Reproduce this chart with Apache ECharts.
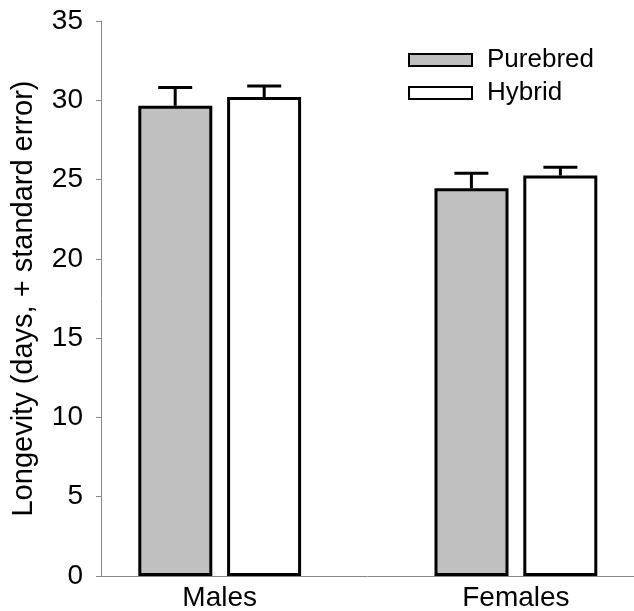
<!DOCTYPE html>
<html>
<head>
<meta charset="utf-8">
<script src="https://cdn.jsdelivr.net/npm/echarts@6/dist/echarts.min.js"></script>
<style>
  html, body { margin: 0; padding: 0; background: #fff; }
  #chart { width: 634px; height: 611px; }
</style>
</head>
<body>
<div id="chart"></div>
<script>
// 数据
var categories = ['Males', 'Females'];
var purebred = [29.65, 24.45];
var hybrid = [30.2, 25.25];
var purebredSE = [1.15, 0.95];
var hybridSE = [0.7, 0.52];
var yTicks = [0, 35, 5]; // min, max, interval

var FONT = 'Liberation Sans, Arial, sans-serif';
var BAR_W = 74;
var BAR_OFFSET = 44.5; // half distance between bar centres in a group

// error bar (+ standard error only)
function errorItem(offset) {
	return function (params, api) {
		var idx = api.value(0);
		var top = api.coord([idx, api.value(1)]);
		var cap = api.coord([idx, api.value(1) + api.value(2)]);
		var x = top[0] + offset;
		var style = { stroke: '#000', lineWidth: 3 };
		return {
			type: 'group',
			children: [
				{ type: 'line', shape: { x1: x, y1: top[1], x2: x, y2: cap[1] }, style: style },
				{ type: 'line', shape: { x1: x - 17, y1: cap[1], x2: x + 17, y2: cap[1] }, style: style }
			]
		};
	};
}

function errData(vals, se) {
	return vals.map(function (v, i) { return [i, v, se[i]]; });
}

var myChart = echarts.init(document.getElementById('chart'));
var option = {
	animation: false,
	textStyle: { fontFamily: FONT, color: '#000' },
	legend: {
		data: ['Purebred', 'Hybrid'],
		icon: 'rect',
		orient: 'vertical',
		left: 403,
		top: 42,
		itemWidth: 63,
		itemHeight: 12,
		itemGap: 7,
		textStyle: { fontFamily: FONT, fontSize: 26, color: '#000', lineHeight: 26, padding: [0, 0, 0, 10] }
	},
	grid: [
		// axes frame
		{ left: 101, right: 0, top: 21, bottom: 35, outerBoundsMode: 'none' },
		// bars
		{ left: 71.6, width: 592.4, top: 21, bottom: 35, outerBoundsMode: 'none' }
	],
	xAxis: [
		{
			gridIndex: 0, type: 'category', data: [''],
			axisLine: { lineStyle: { color: '#888', width: 1 } },
			axisTick: { show: false }, axisLabel: { show: false }
		},
		{
			gridIndex: 1, type: 'category', data: categories,
			axisLine: { show: false }, axisTick: { show: false },
			axisLabel: { fontFamily: FONT, fontSize: 28, color: '#000', margin: 8 }
		}
	],
	yAxis: [
		{
			gridIndex: 0, type: 'value', min: yTicks[0], max: yTicks[1], interval: yTicks[2],
			name: 'Longevity (days, + standard error)',
			nameLocation: 'middle', nameGap: 63,
			nameTextStyle: { fontFamily: FONT, fontSize: 29, color: '#000' },
			axisLine: { show: true, lineStyle: { color: '#888', width: 1 } },
			axisTick: { show: true, length: 5, lineStyle: { color: '#888' } },
			axisLabel: { fontFamily: FONT, fontSize: 28, color: '#000', margin: 18 },
			splitLine: { show: false }
		},
		{
			gridIndex: 1, type: 'value', min: yTicks[0], max: yTicks[1], interval: yTicks[2],
			show: false, splitLine: { show: false }
		}
	],
	series: [
		{
			name: 'Purebred', type: 'bar', xAxisIndex: 1, yAxisIndex: 1,
			barWidth: BAR_W, barGap: '20%',
			itemStyle: { color: '#c0c0c0', borderColor: '#000', borderWidth: 3 },
			data: purebred
		},
		{
			name: 'Hybrid', type: 'bar', xAxisIndex: 1, yAxisIndex: 1,
			barWidth: BAR_W, barGap: '20%',
			itemStyle: { color: '#fff', borderColor: '#000', borderWidth: 3 },
			data: hybrid
		},
		{
			name: 'Purebred SE', type: 'custom', xAxisIndex: 1, yAxisIndex: 1, z: 5,
			renderItem: errorItem(-BAR_OFFSET),
			data: errData(purebred, purebredSE)
		},
		{
			name: 'Hybrid SE', type: 'custom', xAxisIndex: 1, yAxisIndex: 1, z: 5,
			renderItem: errorItem(BAR_OFFSET),
			data: errData(hybrid, hybridSE)
		}
	]
};
myChart.setOption(option);
</script>
</body>
</html>
